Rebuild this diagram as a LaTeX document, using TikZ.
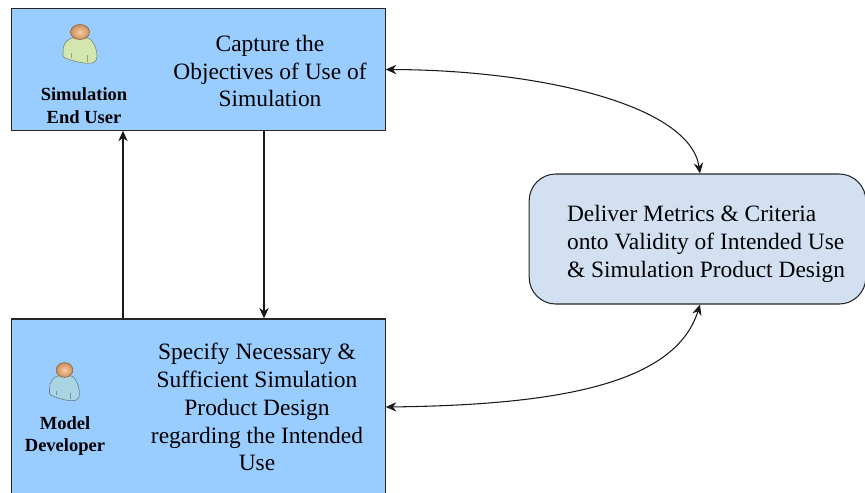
\documentclass[tikz,border=0pt]{standalone}
\usepackage{fontspec}
\setmainfont{Liberation Serif}
\usepackage{tikz}
\usetikzlibrary{positioning}
\usetikzlibrary{arrows.meta}
\definecolor{boxblue}{HTML}{99CCFF}
\definecolor{metricblue}{HTML}{D3E0F2}
\definecolor{usergreen}{HTML}{D4E6B0}
\definecolor{devblue}{HTML}{A8D4E4}
\definecolor{headorange}{HTML}{F2A868}
\tikzset{
    person/.pic={
        \draw[#1!60!black, fill=#1, line width=.5pt, rounded corners=1pt]
            (-8,6) .. controls (-13,8) and (-17,12) .. (-17,20)
            -- (-17,25) .. controls (-10,28) and (2,32) .. (12,31)
            .. controls (16,30) and (17,27) .. (17,23)
            .. controls (16,14) and (12,8) .. (8,6) -- cycle;
        \draw[#1!70!black, line width=.4pt] (-9,21) -- (-9,26) (7,23) -- (7,30);
        \shade[inner color=headorange!60!white, outer color=headorange!85!black,
            draw=headorange!50!black, line width=.4pt]
            (0,0) ellipse (9.5 and 7.5);
    }
}
\begin{document}
\begin{tikzpicture}[x=0.03cm, y=-0.03cm]
        \tikzstyle{stepbox}=[draw=black!85, line width=1pt, fill=boxblue,
            minimum width=11.2cm, inner sep=0pt]
        \tikzstyle{metricbox}=[draw=black!85, line width=.9pt, fill=metricblue,
            rounded corners=.8cm, minimum width=10.1cm, minimum height=3.9cm, inner sep=0pt]
        \tikzstyle{bodytext}=[align=center, font=\fontsize{20}{23.8}\selectfont, inner sep=0pt]
        \tikzstyle{roletext}=[align=center, font=\fontsize{15.8}{19.4}\selectfont\bfseries, inner sep=0pt]
        \tikzstyle{link}=[-{Stealth[length=9pt, width=8pt]}, line width=.9pt, black!90]

            \useasboundingbox (0,0) rectangle (865,492);

            \node[stepbox, minimum height=3.64cm] (enduserbox) at (198.5,69.5) {};
            \node[stepbox, minimum height=5.28cm] (developerbox) at (198.5,407) {};
            \node[metricbox] (metricsbox) at (697.5,239) {};

            \node[bodytext] (capture) at (270,71) {Capture the\\Objectives of Use of\\Simulation};
            \node[bodytext] (specify) at (257,407) {Specify Necessary \&\\Sufficient Simulation\\Product Design\\regarding the Intended\\Use};
            \node[bodytext, align=left] (deliver) at (706,244) {Deliver Metrics \& Criteria\\onto Validity of Intended Use\\\& Simulation Product Design};

            \node[roletext] (enduser) at (84,106) {Simulation\\End User};
            \node[roletext] (developer) at (65,436) {Model\\Developer};

            \pic (endusericon) at (80,32) {person=usergreen};
            \pic[xscale=.88, yscale=.98] (developericon) at (64.5,370) {person=devblue};

            \coordinate (uplink) at (123,225);
            \coordinate (downlink) at (264,225);

            \draw[link] (developerbox.north -| uplink) -- (enduserbox.south -| uplink);
            \draw[link] (enduserbox.south -| downlink) -- (developerbox.north -| downlink);

            \draw[link, {Stealth[length=9pt, width=8pt]}-{Stealth[length=9pt, width=8pt]}]
            (enduserbox.east) .. controls (540,70) and (690,105) .. ([xshift=2.5*0.03cm]metricsbox.north);
            \draw[link, {Stealth[length=9pt, width=8pt]}-{Stealth[length=9pt, width=8pt]}]
            (developerbox.east) .. controls (555,405) and (675,385) .. ([xshift=2.5*0.03cm]metricsbox.south);
        \end{tikzpicture}
\end{document}
